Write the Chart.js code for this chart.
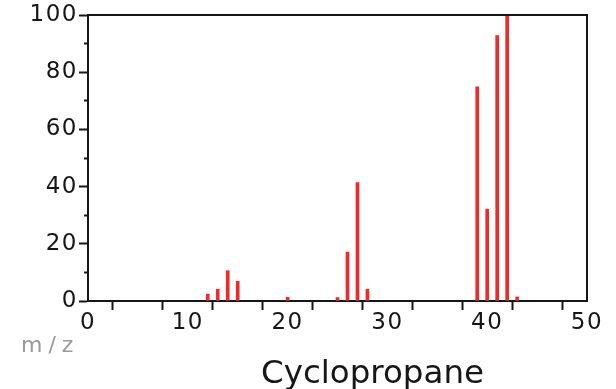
<!DOCTYPE html>
<html>
<head>
<meta charset="utf-8">
<script src="https://cdn.jsdelivr.net/npm/chart.js@4"></script>
<style>
  body { margin: 0; background: #fff; }
  canvas { display: block; }
</style>
</head>
<body>
<canvas id="chart1" width="616" height="389"></canvas>
<script>
//mass spectrum peaks (m/z and relative intensity)
const mz = [12, 13, 14, 15, 20, 25, 26, 27, 28, 39, 40, 41, 42, 43]
const intensity = [2.4, 4.1, 10.6, 6.9, 1.3, 1.2, 17.1, 41.4, 4.1, 74.9, 32.1, 92.8, 100, 1.4]

//axis ticks
const xTicks = [0, 10, 20, 30, 40, 50]
const yTicks = [0, 20, 40, 60, 80, 100]

const compoundName = 'Cyclopropane'
const axisName = 'm/z'

const ink = '#161616'
const red = '#ee2b2b'

//letter spacing for tick labels (canvas state is reset on resize, so set it each time)
const spacing = {
    id: 'spacing',
    beforeLayout(chart) { chart.ctx.letterSpacing = '1.5px' },
    beforeDraw(chart) { chart.ctx.letterSpacing = '1.5px' }
}

//top/right frame lines and the two captions
const frame = {
    id: 'frame',
    afterDraw(chart) {
        const ctx = chart.ctx
        const a = chart.chartArea
        ctx.save()
        ctx.strokeStyle = ink
        ctx.lineWidth = 2
        ctx.beginPath()
        ctx.moveTo(a.left, a.top)
        ctx.lineTo(a.right, a.top)
        ctx.lineTo(a.right, a.bottom)
        ctx.stroke()

        ctx.letterSpacing = '6px'
        ctx.fillStyle = '#9a9a9a'
        ctx.font = '22px "DejaVu Sans"'
        ctx.textBaseline = 'alphabetic'
        ctx.textAlign = 'left'
        ctx.fillText(axisName, 21, 352)

        ctx.letterSpacing = '0px'
        ctx.fillStyle = ink
        ctx.font = '32.5px "DejaVu Sans"'
        ctx.fillText(compoundName, 261, 383)
        ctx.restore()
    }
}

const data = {
    datasets: [{
        label: compoundName,
        data: mz.map((m, i) => ({x: m, y: intensity[i]})),
        backgroundColor: red,
        borderWidth: 0,
        barThickness: 3
    }]
}

const config = {
    type: 'bar',
    data: data,
    plugins: [spacing, frame],
    options: {
        responsive: false,
        animation: false,
        devicePixelRatio: 1,
        layout: {
            padding: {top: 15, right: 29, left: 0, bottom: 0}
        },
        plugins: {
            legend: { display: false },
            tooltip: { enabled: false }
        },
        scales: {
            x: {
                type: 'linear',
                min: 0,
                max: 50,
                offset: false,
                afterFit: s => { s.height = 88 },
                border: { display: true, color: ink, width: 2 },
                grid: {
                    drawOnChartArea: false,
                    drawTicks: true,
                    tickLength: 9,
                    tickColor: ink,
                    tickWidth: 2
                },
                ticks: {
                    stepSize: 5,
                    autoSkip: false,
                    maxRotation: 0,
                    padding: 2,
                    color: ink,
                    font: { family: 'DejaVu Sans', size: 23, lineHeight: 1 },
                    callback: v => xTicks.includes(v) ? String(v) : ''
                }
            },
            y: {
                min: 0,
                max: 100,
                afterFit: s => { s.width = 88 },
                border: { display: true, color: ink, width: 2 },
                grid: {
                    drawOnChartArea: false,
                    drawTicks: true,
                    tickLength: 9,
                    tickColor: ink,
                    tickWidth: 2,
                    //minor ticks only show the part next to the axis
                    tickBorderDash: ctx => (ctx.tick && yTicks.includes(ctx.tick.value)) ? [] : [0, 5, 3, 100]
                },
                ticks: {
                    stepSize: 10,
                    autoSkip: false,
                    padding: 1,
                    color: ink,
                    font: { family: 'DejaVu Sans', size: 23, lineHeight: 1 },
                    callback: v => yTicks.includes(v) ? String(v) : ''
                }
            }
        }
    }
}

const Chart1 = new Chart(
    document.getElementById('chart1'),
    config
)
</script>
</body>
</html>
